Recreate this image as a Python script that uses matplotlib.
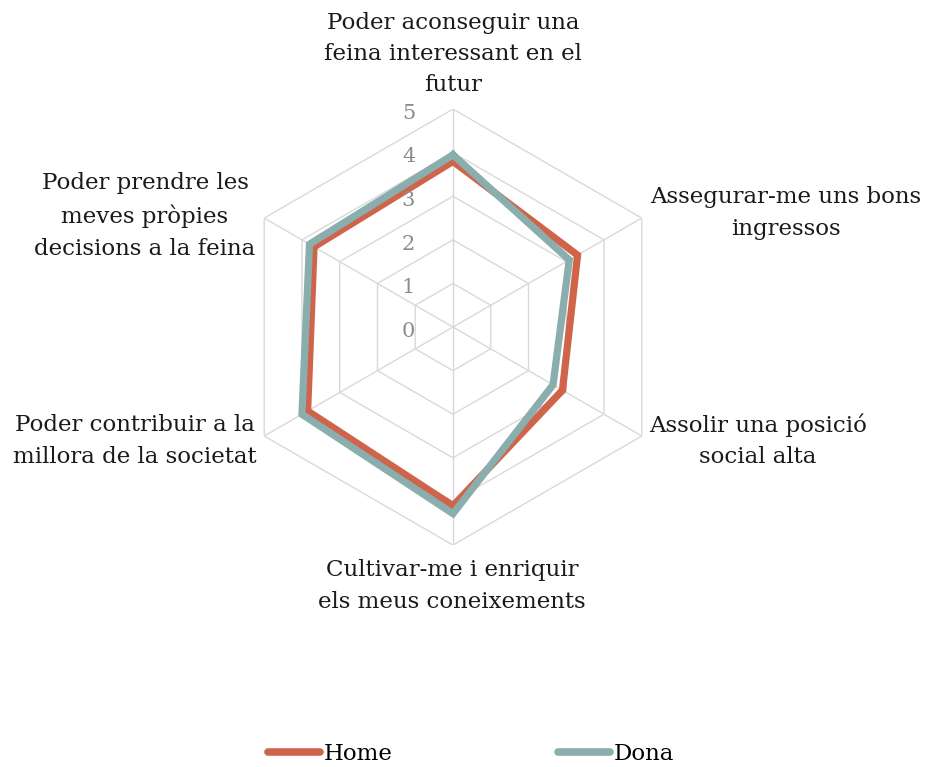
import numpy as np
import matplotlib.pyplot as plt

plt.rcParams['font.family'] = ['DejaVu Serif']

categories = [
    "Poder aconseguir una\nfeina interessant en el\nfutur",
    "Assegurar-me uns bons\ningressos",
    "Assolir una posició\nsocial alta",
    "Cultivar-me i enriquir\nels meus coneixements",
    "Poder contribuir a la\nmillora de la societat",
    "Poder prendre les\nmeves pròpies\ndecisions a la feina",
]
home = [3.8, 3.3, 2.9, 4.1, 3.85, 3.68]
dona = [3.95, 3.08, 2.65, 4.28, 4.0, 3.8]
ticks = [0, 1, 2, 3, 4, 5]

home_color = "#D0644A"
dona_color = "#8AADAD"
grid_color = "#D9D9D9"

fig = plt.figure(figsize=(9.27, 7.67), dpi=100)
ax = fig.add_axes([0.2535, 0.2894, 0.4703, 0.5684], projection="polar")
ax.set_theta_zero_location("N")
ax.set_theta_direction(-1)
ax.set_ylim(0, 5)
ax.axis("off")

n = len(categories)
angles = np.arange(n) * 2 * np.pi / n
closed = np.append(angles, angles[0])

# hexagonal grid
for t in ticks[1:]:
    ax.plot(closed, [t] * (n + 1), color=grid_color, lw=1, zorder=1)
for a in angles:
    ax.plot([a, a], [0, 5], color=grid_color, lw=1, zorder=1)

ax.plot(closed, home + home[:1], color=home_color, lw=5.2,
        solid_joinstyle="miter", zorder=3, label="Home")
ax.plot(closed, dona + dona[:1], color=dona_color, lw=5.2,
        solid_joinstyle="miter", zorder=4, label="Dona")

# radial tick labels
for t in ticks:
    ax.annotate(str(t), xy=(0, t), xytext=(-32, -3), textcoords="offset points",
                ha="center", va="center", fontsize=15, color="#8C8C8C")

# category labels (figure pixel positions of text centers)
label_pos = [
    (453, 54, "center"),
    (786, 213, "center"),
    (758, 441, "center"),
    (452, 586, "center"),
    (135, 441, "center"),
    (145, 216, "center"),
]
for txt, (x, y, ha) in zip(categories, label_pos):
    fig.text(x / 927, 1 - y / 767, txt, ha=ha, va="center", fontsize=16.5,
             color="#1a1a1a", linespacing=1.55)

leg = fig.legend(loc="lower center", bbox_to_anchor=(0.508, -0.024), ncol=2,
                 frameon=False, fontsize=16.5, handlelength=2.3,
                 handletextpad=0.15, columnspacing=7.2)
for line in leg.get_lines():
    line.set_solid_capstyle("round")
    line.set_linewidth(5.5)

fig.savefig("out.png", dpi=100)
